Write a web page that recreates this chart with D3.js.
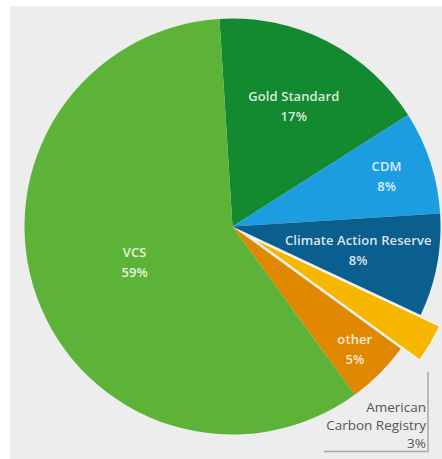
<!DOCTYPE html>
<html>
<head>
<meta charset="utf-8">
<script src="https://cdn.jsdelivr.net/npm/d3@7"></script>
<style>
  html, body { margin: 0; padding: 0; background: #ffffff; }
  svg { display: block; }
</style>
</head>
<body>
<svg id="chart" width="442" height="459"></svg>
<script>
// ---- data ----
const categories = ["Gold Standard", "CDM", "Climate Action Reserve", "American Carbon Registry", "other", "VCS"];
const shares = [17, 8, 8, 3, 5, 59];
const shareLabels = ["17%", "8%", "8%", "3%", "5%", "59%"];

// ---- layout / style ----
const colors = ["#138a2f", "#1b9ddf", "#0b5f8f", "#f7b600", "#e08900", "#5db338"];
const labelRadii = [135, 162, 128, null, 173, 104];
const explodedIndex = 3;
const cx = 232.5, cy = 226.5, R = 208, explode = 22;
const startDeg = -3.6;

const svg = d3.select("#chart");
svg.append("rect").attr("x", 10).attr("y", 6).attr("width", 432).attr("height", 453).attr("fill", "#ededed");

const data = categories.map((c, i) => ({ name: c, value: shares[i], label: shareLabels[i], i }));
const start = startDeg * Math.PI / 180;
const pie = d3.pie().sort(null).value(d => d.value).startAngle(start).endAngle(start + 2 * Math.PI);
const arcs = pie(data);
const arc = d3.arc().innerRadius(0).outerRadius(R);

const g = svg.append("g").attr("transform", `translate(${cx},${cy})`);

g.selectAll("path.slice").data(arcs).join("path")
  .attr("class", "slice")
  .attr("d", arc)
  .attr("fill", d => colors[d.index])
  .attr("stroke", d => d.index === explodedIndex ? "#ffffff" : "none")
  .attr("stroke-width", 1)
  .attr("transform", d => {
    if (d.index !== explodedIndex) return null;
    const m = (d.startAngle + d.endAngle) / 2;
    return `translate(${explode * Math.sin(m)},${-explode * Math.cos(m)})`;
  });

// inner labels
const font = "'Open Sans', 'Noto Sans', sans-serif";
arcs.forEach(d => {
  if (d.index === explodedIndex) return;
  const m = (d.startAngle + d.endAngle) / 2;
  const r = labelRadii[d.index];
  const x = r * Math.sin(m), y = -r * Math.cos(m);
  const t = g.append("text")
    .attr("x", x).attr("y", y)
    .attr("text-anchor", "middle")
    .attr("font-family", font)
    .attr("font-size", 13)
    .attr("font-weight", 600)
    .attr("letter-spacing", 0.1)
    .attr("fill", "#ffffff")
    .attr("fill-opacity", 0.85);
  t.append("tspan").attr("x", x).attr("dy", "-0.4em").text(d.data.name);
  t.append("tspan").attr("x", x).attr("dy", "1.55em").text(d.data.label);
});

// exploded slice callout
const ea = arcs[explodedIndex];
const lineX = 428, lineY = 451.5;
svg.append("path")
  .attr("d", `M${lineX},${cy - (R + explode) * Math.cos(ea.endAngle) + 10}V${lineY}H324`)
  .attr("fill", "none")
  .attr("stroke", "#a8a8a8")
  .attr("stroke-width", 1.5);

const ext = svg.append("text")
  .attr("text-anchor", "end")
  .attr("font-family", font)
  .attr("font-size", 13.5)
  .attr("fill", "#555555");
const nameParts = ["American", "Carbon Registry"];
nameParts.forEach((p, k) => {
  ext.append("tspan").attr("x", 426).attr("y", 412 + k * 18).text(p);
});
ext.append("tspan").attr("x", 426).attr("y", 412 + 2 * 18).text(ea.data.label);
</script>
</body>
</html>
